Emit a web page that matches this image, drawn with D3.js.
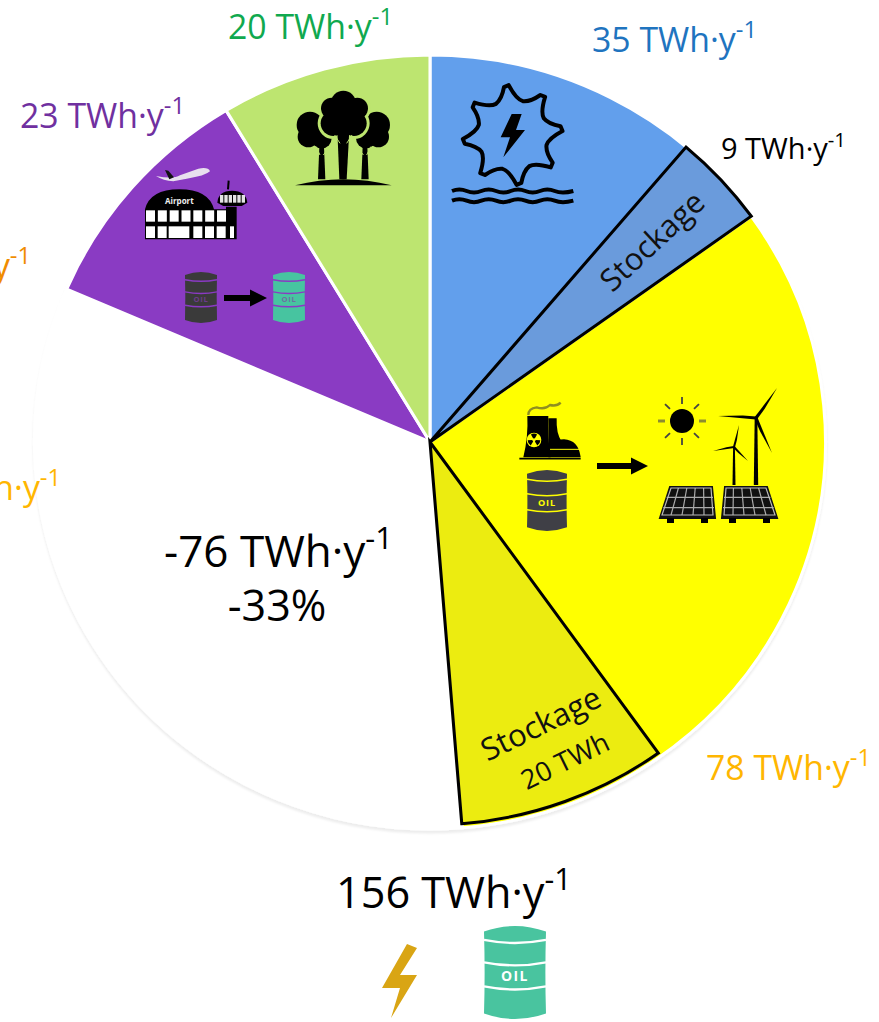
<!DOCTYPE html>
<html>
<head>
<meta charset="utf-8">
<script src="https://cdnjs.cloudflare.com/ajax/libs/d3/7.8.5/d3.min.js"></script>
<style>
  html, body { margin: 0; padding: 0; background: #fff; overflow: hidden; }
  text { font-family: "Open Sans", sans-serif; }
</style>
</head>
<body>
<svg id="chart" width="879" height="1022"></svg>
<script>
// flows in TWh per year, clockwise from the top
const sectors = ["hydro", "renewables", "saving", "aviation", "forest"]
const flows = [35, 78, 76, 23, 20]
const sector_colors = ["#629fec", "#ffff00", "#ffffff", "#8a3ac3", "#bde56f"]

// storage wedges sit at the end of their parent sector
const storage_parent = ["hydro", "renewables"]
const storage_values = [9, 20]
const storage_colors = ["#6a9bdc", "#ecec10"]

const total_flow = 156
const saving_pct = 33
const hidden_label_colors = ["#f08c00", "#ffb600"]

const width = 879, height = 1022
const cx = 430, cy = 442, radius = 387

const svg = d3.select("#chart")

const defs = svg.append("defs")
defs.append("filter").attr("id", "rim")
  .attr("x", "-5%").attr("y", "-5%").attr("width", "110%").attr("height", "110%")
  .append("feDropShadow")
  .attr("dx", 0).attr("dy", 3).attr("stdDeviation", 1.2)
  .attr("flood-color", "#000").attr("flood-opacity", 0.07)

const pie_layout = d3.pie().sort(null).value(d => d.value)
const pie_data = pie_layout(sectors.map((name, i) => ({ name, value: flows[i], color: sector_colors[i] })))
const angle_scale = d3.scaleLinear().domain([0, d3.sum(flows)]).range([0, 2 * Math.PI])

const pie = svg.append("g")
  .attr("transform", `translate(${cx},${cy}) scale(1.022,1)`)

pie.append("g").attr("filter", "url(#rim)")
  .selectAll("path")
  .data(pie_data).enter()
  .append("path")
  .attr("d", d3.arc().innerRadius(0).outerRadius(radius))
  .attr("fill", d => d.data.color)
  .attr("stroke", "#fff")
  .attr("stroke-width", 3)

// the blue storage reaches the rim, the yellow one leaves a thin band
pie.append("g")
  .selectAll("path")
  .data(storage_values).enter()
  .append("path")
  .attr("d", (v, i) => {
    let parent = pie_data.find(d => d.data.name == storage_parent[i])
    return d3.arc().innerRadius(0).outerRadius(i == 0 ? radius : radius - 4)({
      startAngle: parent.endAngle - angle_scale(v),
      endAngle: parent.endAngle
    })
  })
  .attr("fill", (v, i) => storage_colors[i])
  .attr("stroke", "#000")
  .attr("stroke-width", 3)
  .attr("stroke-linejoin", "miter")

function add_label(text, x, y, size, color, anchor) {
  let t = svg.append("text")
    .attr("x", x).attr("y", y)
    .attr("font-size", size)
    .attr("fill", color)
    .attr("text-anchor", anchor || "start")
  t.append("tspan").text(text + " TWh·y")
  t.append("tspan").attr("dy", -size * 0.42).attr("font-size", size * 0.7).text("-1")
}

add_label(flows[4], 228, 39, 33.8, "#10a94f")
add_label(flows[0], 592, 52, 33.8, "#1f74bf")
add_label(flows[3], 20, 128, 33.8, "#7030a0")
add_label(storage_values[0], 721, 159, 29, "#000")
add_label(flows[1], 706, 780, 33.8, "#ffb600")
add_label("-" + flows[2], 164, 567, 44, "#000")
add_label(total_flow, 336, 908, 43.2, "#000")

// sector names run off the left edge of the page
svg.append("g").selectAll("text")
  .data(hidden_label_colors).enter()
  .append("text")
  .attr("x", (d, i) => i == 0 ? 31 : 61)
  .attr("y", (d, i) => i == 0 ? 278 : 500)
  .attr("font-size", 33.8)
  .attr("fill", d => d)
  .attr("text-anchor", "end")
  .each(function() {
    d3.select(this).append("tspan").text("TWh·y")
    d3.select(this).append("tspan").attr("dy", -14.2).attr("font-size", 23.7).text("-1")
  })

svg.append("text")
  .attr("x", 277).attr("y", 621)
  .attr("font-size", 43)
  .attr("text-anchor", "middle")
  .text(`-${saving_pct}%`)

function rotated_text(text, x, y, size, angle) {
  svg.append("text")
    .attr("transform", `translate(${x},${y}) rotate(${angle})`)
    .attr("font-size", size)
    .attr("text-anchor", "middle")
    .attr("dominant-baseline", "middle")
    .attr("fill", "#111")
    .text(text)
}
rotated_text("Stockage", 654, 243, 31, -43)
rotated_text("Stockage", 542, 726, 31, -26)
rotated_text(storage_values[1] + " TWh", 566, 763, 27, -26)

// pictograms
function icon(x, y, k) {
  return svg.append("g").attr("transform", `translate(${x},${y}) scale(${k})`)
}

function circles(g, list, fill, stroke, sw) {
  g.selectAll(null).data(list).enter().append("circle")
    .attr("cx", d => d[0]).attr("cy", d => d[1]).attr("r", d => d[2])
    .attr("fill", fill)
    .attr("stroke", stroke || "none")
    .attr("stroke-width", sw || 0)
}

function draw_trees() {
  let g = icon(0, 80, 1 / 3)
  let side = [[930, 135, 40], [925, 170, 32], [965, 175, 30], [1130, 135, 40], [1135, 170, 32], [1098, 175, 30]]
  let middle = [[1030, 70, 38], [995, 85, 32], [1072, 85, 32], [1000, 130, 38], [1062, 130, 38], [1030, 110, 55]]
  g.append("path").attr("d", "M885 316 Q1030 280 1175 316 Z")
  g.selectAll(null).data(["M958 200 L972 200 L976 298 L954 298 Z", "M1102 200 L1088 200 L1084 298 L1106 298 Z"])
    .enter().append("path").attr("d", d => d)
  circles(g, side, "#000")
  circles(g, middle, "#000", "#bde56f", 18)
  circles(g, middle, "#000")
  g.append("path").attr("d", "M1012 150 L1048 150 L1040 298 L1018 298 Z")
  g.selectAll(null).data(["M1020 190 L1004 165", "M1040 190 L1056 165", "M960 225 L948 200", "M970 225 L985 205", "M1090 225 L1076 205", "M1100 225 L1112 200"])
    .enter().append("path").attr("d", d => d)
    .attr("stroke", "#bde56f").attr("stroke-width", 3).attr("fill", "none")
}

function draw_hydro() {
  let g = icon(430, 50, 1 / 3)
  // water wheel outline, one curved tooth after the other
  let teeth = 8, d = "", start = -1.75
  let pt = (r, t) => `${248 + r * Math.cos(t)} ${255 + r * Math.sin(t)}`
  for (let i = 0; i < teeth; i++) {
    let a = i / teeth * 2 * Math.PI + start
    let step = 2 * Math.PI / teeth
    d += (i == 0 ? "M" : "L") + pt(146, a)
    d += "L" + pt(150, a + 0.1)
    d += "Q" + pt(108, a + step * 0.35) + " " + pt(106, a + step * 0.6)
    d += "Q" + pt(112, a + step * 0.85) + " " + pt(146, a + step)
  }
  g.append("path").attr("d", d + "Z")
    .attr("fill", "none").attr("stroke", "#000").attr("stroke-width", 12).attr("stroke-linejoin", "round")
  g.append("path").attr("d", "M245 192 L275 192 L258 240 L285 240 L220 322 L240 262 L212 262 Z")
  g.selectAll(null).data([423, 452]).enter().append("path")
    .attr("d", y => `M66 ${y} Q88 ${y - 9} 110 ${y} T154 ${y} T198 ${y} T242 ${y} T286 ${y} T330 ${y} T374 ${y} T430 ${y}`)
    .attr("fill", "none").attr("stroke", "#000").attr("stroke-width", 12)
}

function barrel(x, y, w, h, color, band, text_color) {
  let g = svg.append("g").attr("transform", `translate(${x},${y})`)
  let ry = h * 0.06
  g.append("path")
    .attr("d", `M0 ${ry} Q${w / 2} ${-ry} ${w} ${ry} Q${w * 0.98} ${h / 2} ${w} ${h - ry} Q${w / 2} ${h + ry} 0 ${h - ry} Q${w * 0.02} ${h / 2} 0 ${ry} Z`)
    .attr("fill", color)
  g.selectAll(null).data([0.15, 0.39, 0.65]).enter().append("path")
    .attr("d", f => `M0 ${h * f} Q${w / 2} ${h * f + ry * 1.1} ${w} ${h * f}`)
    .attr("fill", "none").attr("stroke", band).attr("stroke-width", Math.max(1.5, h * 0.025))
  g.append("text")
    .attr("x", w / 2).attr("y", h * 0.55)
    .attr("text-anchor", "middle").attr("dominant-baseline", "middle")
    .attr("font-size", h * 0.15).attr("font-weight", 700)
    .attr("font-family", "'DejaVu Sans Mono', monospace")
    .attr("letter-spacing", h * 0.015)
    .attr("fill", text_color)
    .text("OIL")
}

function arrow(x1, x2, y) {
  let head = 17
  svg.append("path")
    .attr("d", `M${x1} ${y - 3} L${x2 - head} ${y - 3} L${x2 - head} ${y - 8.5} L${x2} ${y} L${x2 - head} ${y + 8.5} L${x2 - head} ${y + 3} L${x1} ${y + 3} Z`)
}

function draw_airport() {
  let g = icon(130, 150, 1 / 3)
  // plane
  g.append("path").attr("d", "M78 78 Q130 88 150 76 L205 56 Q235 50 240 64 Q225 78 170 86 L130 94 Q100 92 78 78 Z").attr("fill", "#e8e0ee")
  g.append("path").attr("d", "M105 60 L115 62 L132 82 L118 88 Z").attr("fill", "#111")
  // terminal
  g.append("path").attr("d", "M45 178 Q60 118 148 118 Q236 118 252 178 L288 178 L288 170 L320 170 L320 268 L45 268 Z").attr("fill", "#000")
  g.append("path").attr("d", "M262 158 Q265 122 306 122 Q348 122 352 158 L335 168 L280 168 Z").attr("fill", "#000")
  g.append("path").attr("d", "M294 118 L296 92").attr("stroke", "#000").attr("stroke-width", 6)
  g.selectAll(null).data(d3.range(7)).enter().append("rect")
    .attr("x", i => 48 + i * 35.5).attr("y", 181).attr("width", 27).attr("height", 34).attr("fill", "#fff")
  g.selectAll(null).data([[48, 27], [83, 27], [116, 62], [190, 27], [225, 27], [260, 27], [300, 12]]).enter().append("rect")
    .attr("x", d => d[0]).attr("y", 229).attr("width", d => d[1]).attr("height", 35).attr("fill", "#fff")
  g.selectAll(null).data(d3.range(6)).enter().append("rect")
    .attr("x", i => 270 + i * 13).attr("y", 135).attr("width", 10).attr("height", 23).attr("fill", "#e4e4e4")
  g.append("text").attr("x", 148).attr("y", 163).attr("text-anchor", "middle")
    .attr("font-size", 24).attr("font-weight", 700).attr("fill", "#eee").text("Airport")
}

function draw_plant() {
  let g = icon(490, 370, 1 / 3)
  g.append("path").attr("d", "M115 135 Q115 115 140 112 Q165 120 180 105 Q200 110 212 98")
    .attr("fill", "none").attr("stroke", "#8f8f20").attr("stroke-width", 7)
  g.append("path").attr("d", "M175 145 L200 145 Q198 190 215 215 L175 260 Z")
  g.append("path").attr("d", "M112 138 L175 138 Q172 200 182 262 L100 262 Q115 200 112 138 Z")
  g.append("path").attr("d", "M175 262 Q180 208 222 208 Q265 210 272 262 Z")
  g.append("path").attr("d", "M88 266 L272 266").attr("stroke", "#000").attr("stroke-width", 5)
  g.append("path").attr("d", "M180 238 L268 238").attr("stroke", "#ffff00").attr("stroke-width", 3)
  g.append("circle").attr("cx", 132).attr("cy", 210).attr("r", 22).attr("fill", "#ffff00")
  let blade = d3.arc().innerRadius(5).outerRadius(19)
  g.selectAll(null).data([0, 1, 2]).enter().append("path")
    .attr("transform", "translate(132,210)")
    .attr("d", i => blade({ startAngle: i * 2.094 - 0.5, endAngle: i * 2.094 + 0.5 }))
}

function draw_sun() {
  let g = icon(682, 421, 1)
  g.append("circle").attr("r", 12)
  g.selectAll(null).data(d3.range(8)).enter().append("path")
    .attr("d", i => {
      let a = i / 8 * 2 * Math.PI
      return `M${17 * Math.cos(a)} ${17 * Math.sin(a)} L${24 * Math.cos(a)} ${24 * Math.sin(a)}`
    })
    .attr("stroke", (i) => i % 4 == 0 ? "#8c8c30" : "#444")
    .attr("stroke-width", i => i % 4 == 0 ? 3 : 1.8)
}

function turbine(hx, hy, base, tips, w) {
  let g = svg.append("g")
  g.append("path").attr("d", `M${hx - w * 0.6} ${hy} L${hx + w * 0.6} ${hy} L${hx + w} ${base} L${hx - w} ${base} Z`)
  g.selectAll(null).data(tips).enter().append("path")
    .attr("d", t => {
      let dx = t[0] - hx, dy = t[1] - hy, n = Math.hypot(dx, dy)
      let px = -dy / n * w * 0.7, py = dx / n * w * 0.7
      return `M${hx + px} ${hy + py} L${hx + dx * 0.35 + px * 1.2} ${hy + dy * 0.35 + py * 1.2} L${t[0]} ${t[1]} L${hx - px} ${hy - py} Z`
    })
}

function solar_panel(x0, x1, b0, b1, y0, y1) {
  let g = svg.append("g")
  g.append("path").attr("d", `M${x0} ${y0} L${x1} ${y0} L${b1} ${y1} L${b0} ${y1} Z`)
    .attr("fill", "#111").attr("stroke", "#111").attr("stroke-width", 2)
  let cols = 5, rows = 3
  for (let i = 1; i < cols; i++) {
    let a = [x0 + i / cols * (x1 - x0), y0 + 1], b = [b0 + i / cols * (b1 - b0), y1 - 3]
    g.append("path").attr("d", `M${a} L${b}`).attr("stroke", "#aaa").attr("stroke-width", 1.2)
  }
  for (let j = 1; j < rows; j++) {
    let v = j / rows
    g.append("path").attr("d", `M${x0 + (b0 - x0) * v} ${y0 + (y1 - y0) * v} L${x1 + (b1 - x1) * v} ${y0 + (y1 - y0) * v}`)
      .attr("stroke", "#aaa").attr("stroke-width", 1.2)
  }
  g.append("path").attr("d", `M${x0 + 1} ${y0 + 1} L${x1 - 1} ${y0 + 1} L${b1 - 2} ${y1 - 3} L${b0 + 2} ${y1 - 3} Z`)
    .attr("fill", "none").attr("stroke", "#bbb").attr("stroke-width", 1.2)
  g.selectAll(null).data([b0 + 7, b1 - 14]).enter().append("rect")
    .attr("x", d => d).attr("y", y1).attr("width", 7).attr("height", 5)
}

draw_trees()
draw_hydro()
draw_airport()
barrel(185, 272, 32, 51, "#3a3a3a", "#8a3ac3", "#6c3a8a")
barrel(273, 272, 32, 51, "#47c4a0", "#8a3ac3", "#6c70a0")
arrow(224, 267, 298)

draw_plant()
barrel(527, 470, 40, 61, "#3f3f46", "#ffff00", "#ffff00")
arrow(597, 648, 466)
draw_sun()
turbine(756, 418, 485, [[777, 388], [718, 416], [772, 453]], 2.2)
turbine(734, 447, 485, [[739, 425], [713, 451], [748, 461]], 1.5)
solar_panel(670, 712, 660, 715, 487, 518)
solar_panel(725, 767, 722, 777, 487, 518)

// bolt and barrel under the total
svg.append("path")
  .attr("d", "M407 944 L417 948 L400 975 L417 975 L391 1018 L400 988 L382 988 Z")
  .attr("fill", "#d9a514")
barrel(484, 926, 62, 93, "#49c49f", "#fff", "#fff")
</script>
</body>
</html>
